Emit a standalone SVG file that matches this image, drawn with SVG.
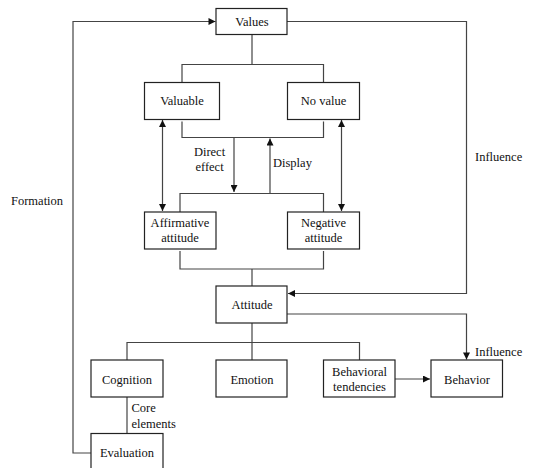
<svg xmlns="http://www.w3.org/2000/svg" width="541" height="468" viewBox="0 0 541 468">
<defs>
<style>
.box{fill:#fff;stroke:#222;stroke-width:1.2}
.ln{fill:none;stroke:#444;stroke-width:1.2}
</style>
<marker id="ah" viewBox="0 0 10 10" refX="10" refY="5" markerWidth="9" markerHeight="7" markerUnits="userSpaceOnUse" orient="auto-start-reverse">
<path d="M0,0 L10,5 L0,10 z" fill="#111"/>
</marker>
</defs>
<rect width="541" height="468" fill="#fff"/>
<g id="connectors">
<path class="ln" d="M91,453 H73 V21.5 H215.5" marker-end="url(#ah)"/>
<path class="ln" d="M287,21.5 H466.5 V293.5 H288" marker-end="url(#ah)"/>
<path class="ln" d="M252,34 V64.5 M182,82 V64.5 H323.5 V82"/>
<path class="ln" d="M182,121.5 V137.5 H323.5 V121.5"/>
<path class="ln" d="M234,137.5 V192" marker-end="url(#ah)"/>
<path class="ln" d="M270,193.5 V138.5" marker-end="url(#ah)"/>
<path class="ln" d="M180,212 V193.5 H323.5 V212"/>
<path class="ln" d="M162.5,120 V211" marker-start="url(#ah)" marker-end="url(#ah)"/>
<path class="ln" d="M341.5,120 V211" marker-start="url(#ah)" marker-end="url(#ah)"/>
<path class="ln" d="M180,251 V269 H323.5 V251 M252,269 V286"/>
<path class="ln" d="M287,314 H466.5 V359.5" marker-end="url(#ah)"/>
<path class="ln" d="M252,323 V360 M127,360 V342.5 H359.5 V360"/>
<path class="ln" d="M395,379 H430" marker-end="url(#ah)"/>
<path class="ln" d="M127,397 V433"/>
</g>
<g font-family="Liberation Serif, serif" font-size="12.5" fill="#111">
<g text-anchor="middle">
<g id="values"><rect class="box" x="216" y="8.5" width="71" height="26"/><text x="252" y="25.5">Values</text></g>
<g id="valuable"><rect class="box" x="144.5" y="82.5" width="75" height="37"/><text x="182" y="105">Valuable</text></g>
<g id="novalue"><rect class="box" x="287.5" y="82.5" width="72" height="37"/><text x="323.5" y="105">No value</text></g>
<g id="affirmative"><rect class="box" x="144.5" y="212" width="71.5" height="37"/><text x="180" y="227">Affirmative</text><text x="180" y="242">attitude</text></g>
<g id="negative"><rect class="box" x="287.5" y="212" width="72" height="37"/><text x="323.5" y="227">Negative</text><text x="323.5" y="242">attitude</text></g>
<g id="attitude"><rect class="box" x="216" y="286" width="71" height="37"/><text x="252" y="308.5">Attitude</text></g>
<g id="cognition"><rect class="box" x="91" y="360" width="72" height="37"/><text x="127" y="383.5">Cognition</text></g>
<g id="emotion"><rect class="box" x="216" y="360" width="71" height="37"/><text x="252" y="383.5">Emotion</text></g>
<g id="behavioral"><rect class="box" x="323.5" y="360" width="71.5" height="37"/><text x="359.5" y="375.5">Behavioral</text><text x="359.5" y="390.5">tendencies</text></g>
<g id="behavior"><rect class="box" x="431" y="360" width="71.5" height="37"/><text x="467" y="383.5">Behavior</text></g>
<g id="evaluation"><rect class="box" x="91" y="433.5" width="72" height="37"/><text x="127" y="457">Evaluation</text></g>
<text x="209.5" y="156">Direct</text>
<text x="209.5" y="170.5">effect</text>
</g>
<g id="labels">
<text x="273" y="166.5">Display</text>
<text x="475" y="160.5">Influence</text>
<text x="11" y="205">Formation</text>
<text x="475" y="356">Influence</text>
<text x="131.5" y="412">Core</text>
<text x="131.5" y="428">elements</text>
</g>
</g>
</svg>
